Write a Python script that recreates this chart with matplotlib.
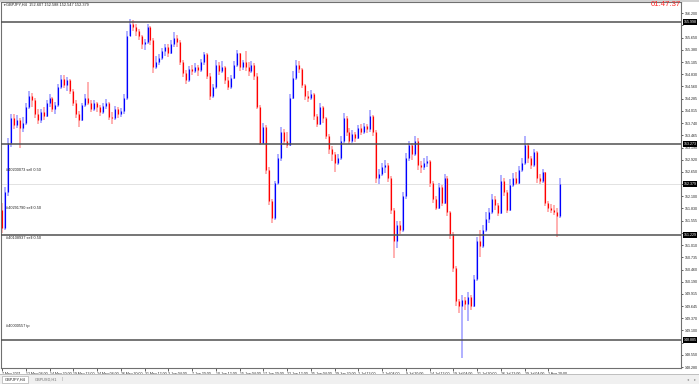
import matplotlib
matplotlib.use('Agg')
import matplotlib.pyplot as plt
import matplotlib.transforms as mtransforms
from matplotlib.patches import Rectangle

plt.rcParams['font.family'] = ['Liberation Sans', 'DejaVu Sans']

# ==========================================
# GBPJPY H4 (every candle here covers two H4 bars)
# ==========================================
first_open = 151.80
closes = [
    151.40, 152.20, 153.30, 153.85, 153.70, 153.80, 153.62, 153.75, 154.10, 154.35,
    154.25, 153.95, 153.82, 153.98, 153.90, 154.18, 154.30, 154.05, 154.15, 154.55,
    154.72, 154.60, 154.70, 154.45, 154.20, 153.95, 153.80, 154.15, 154.30, 154.20,
    154.05, 154.18, 154.10, 153.98, 154.12, 154.20, 153.88, 153.85, 154.05, 153.95,
    154.00, 154.30, 155.70, 155.95, 155.88, 155.80, 155.70, 155.50, 155.55, 155.90,
    155.60, 155.00, 155.10, 155.20, 155.35, 155.45, 155.30, 155.50, 155.65, 155.55,
    155.10, 154.85, 154.70, 154.95, 154.90, 155.00, 154.92, 155.10, 155.28, 154.80,
    154.35, 154.55, 155.05, 154.90, 155.00, 154.70, 154.55, 154.75, 155.05, 155.30,
    155.00, 155.10, 155.00, 154.90, 155.05, 154.80, 154.10, 153.30, 153.65, 152.70,
    152.00, 151.62, 152.40, 152.95, 153.55, 153.35, 153.25, 154.30, 154.75, 155.05,
    154.95, 154.60, 154.35, 154.30, 154.40, 153.90, 153.72, 154.10, 153.85, 153.45,
    153.15, 153.05, 152.85, 152.95, 153.35, 153.85, 153.55, 153.35, 153.50, 153.40,
    153.62, 153.55, 153.68, 153.60, 153.90, 153.55, 152.50, 152.60, 152.75, 152.80,
    152.50, 151.80, 151.10, 151.45, 151.35, 152.10, 152.95, 153.25, 153.05, 153.35,
    152.80, 152.75, 152.85, 152.90, 152.40, 152.05, 151.85, 152.30, 151.95, 152.52,
    151.75, 151.25, 150.50, 149.75, 149.65, 149.78, 149.70, 149.85, 149.65, 150.25,
    151.10, 151.00, 151.35, 151.60, 151.75, 152.05, 151.90, 151.72, 152.45, 152.20,
    151.80, 152.35, 152.50, 152.40, 152.70, 152.85, 153.25, 152.95, 152.80, 153.10,
    152.50, 152.45, 152.65, 151.95, 151.85, 151.80, 151.75, 151.65, 152.38,
]
highs = [
    151.95, 152.30, 153.40, 153.95, 153.95, 153.92, 153.85, 153.88, 154.20, 154.45,
    154.42, 154.30, 154.05, 154.05, 154.10, 154.25, 154.38, 154.32, 154.22, 154.62,
    154.82, 154.82, 154.78, 154.72, 154.50, 154.25, 154.00, 154.20, 154.40, 154.66,
    154.25, 154.25, 154.22, 154.15, 154.20, 154.28, 154.22, 153.98, 154.12, 154.10,
    154.08, 154.40, 155.80, 156.06, 156.05, 155.95, 155.85, 155.72, 155.62, 155.96,
    155.92, 155.65, 155.25, 155.28, 155.42, 155.52, 155.50, 155.60, 155.78, 155.72,
    155.60, 155.15, 154.92, 155.02, 155.05, 155.08, 155.05, 155.18, 155.32, 155.30,
    154.85, 154.62, 155.15, 155.10, 155.12, 155.02, 154.78, 154.82, 155.12, 155.38,
    155.30, 155.15, 155.35, 155.10, 155.12, 155.08, 154.85, 154.15, 153.75, 153.70,
    152.75, 152.05, 152.45, 153.05, 153.65, 153.60, 153.55, 154.40, 154.90, 155.15,
    155.12, 154.98, 154.62, 154.45, 154.48, 154.42, 153.95, 154.18, 154.12, 153.88,
    153.50, 153.22, 153.10, 153.05, 153.45, 153.96, 153.90, 153.62, 153.58, 153.55,
    153.70, 153.72, 153.75, 153.72, 154.03, 153.92, 153.58, 152.72, 152.85, 152.92,
    152.85, 152.55, 151.85, 151.55, 151.55, 152.20, 153.08, 153.35, 153.30, 153.45,
    153.40, 152.90, 152.95, 153.00, 152.92, 152.45, 152.10, 152.40, 152.35, 152.60,
    152.55, 151.78, 151.30, 150.55, 149.80, 149.90, 149.85, 149.95, 149.90, 150.35,
    151.20, 151.35, 151.45, 151.75, 151.85, 152.15, 152.10, 151.95, 152.58, 152.50,
    152.25, 152.48, 152.62, 152.65, 152.78, 152.95, 153.45, 153.30, 153.00, 153.15,
    153.12, 152.60, 152.72, 152.65, 152.00, 151.92, 151.90, 151.85, 152.52,
]
lows = [
    151.28, 151.35, 152.10, 153.20, 153.60, 153.62, 153.18, 153.55, 153.70, 154.05,
    154.10, 153.85, 153.72, 153.75, 153.80, 153.88, 154.10, 153.98, 153.95, 154.10,
    154.50, 154.52, 154.45, 154.38, 154.12, 153.85, 153.66, 153.78, 154.10, 154.15,
    153.98, 154.00, 153.98, 153.90, 153.95, 154.05, 153.80, 153.72, 153.80, 153.85,
    153.88, 153.95, 154.25, 155.70, 155.80, 155.70, 155.60, 155.40, 155.38, 155.50,
    155.48, 154.86, 154.95, 155.05, 155.15, 155.25, 155.22, 155.28, 155.45, 155.45,
    155.05, 154.78, 154.62, 154.65, 154.82, 154.85, 154.80, 154.88, 155.05, 154.72,
    154.26, 154.30, 154.50, 154.82, 154.85, 154.62, 154.48, 154.50, 154.72, 155.00,
    154.90, 154.92, 154.90, 154.80, 154.85, 154.70, 154.05, 153.25, 153.28, 152.60,
    151.90, 151.50, 151.58, 152.35, 152.90, 153.25, 153.18, 153.22, 154.28, 154.70,
    154.85, 154.52, 154.26, 154.22, 154.25, 153.82, 153.65, 153.70, 153.75, 153.38,
    153.05, 152.90, 152.65, 152.80, 152.92, 153.30, 153.45, 153.28, 153.30, 153.32,
    153.38, 153.48, 153.50, 153.52, 153.55, 153.45, 152.40, 152.38, 152.55, 152.62,
    152.42, 151.70, 150.72, 150.95, 151.25, 151.30, 152.05, 152.90, 152.92, 153.00,
    152.70, 152.62, 152.68, 152.75, 152.30, 151.95, 151.80, 151.82, 151.88, 151.92,
    151.65, 151.15, 150.40, 149.65, 149.50, 148.48, 149.55, 149.30, 149.55, 149.62,
    150.20, 150.75, 150.95, 151.30, 151.50, 151.70, 151.80, 151.65, 151.70, 152.10,
    151.72, 151.78, 152.30, 152.35, 152.38, 152.65, 152.80, 152.85, 152.72, 152.75,
    152.40, 152.38, 152.40, 151.88, 151.75, 151.72, 151.68, 151.20, 151.62,
]
opens = [first_open] + closes[:-1]

date_labels = ['7 May 2021', '12 May 04:00', '14 May 20:00', '19 May 12:00', '24 May 04:00',
               '26 May 20:00', '31 May 12:00', '3 Jun 04:00', '7 Jun 20:00', '10 Jun 12:00',
               '15 Jun 04:00', '17 Jun 20:00', '22 Jun 12:00', '25 Jun 04:00', '29 Jun 20:00',
               '2 Jul 12:00', '7 Jul 04:00', '9 Jul 20:00', '14 Jul 12:00', '19 Jul 04:00',
               '21 Jul 20:00', '26 Jul 12:00', '29 Jul 04:00', '2 Aug 20:00']
candles_per_label = 8

price_ticks = [156.200, 155.925, 155.650, 155.380, 155.105, 154.830, 154.560, 154.285,
               154.015, 153.740, 153.465, 153.190, 152.920, 152.650, 152.375, 152.100,
               151.830, 151.555, 151.285, 151.010, 150.735, 150.460, 150.190, 149.915,
               149.645, 149.370, 149.100, 148.825, 148.550, 148.280]

level_lines = [155.998, 153.273, 151.229, 148.885]
bid = 152.379

order_labels = ['#40200073 sell 0.50', '#40291790 sell 0.50', '#40108937 sell 0.50', '#40000557 tp']
order_prices = [152.69, 151.84, 151.16, 149.20]

title_text = 'GBPJPY,H4  152.607 152.588 152.547 152.379'
timer_text = '01:47:37'

# ==========================================
# FIGURE
# ==========================================
W, H = 699, 384
fig = plt.figure(figsize=(W / 100, H / 100), dpi=100)
fig.patch.set_facecolor('white')
ax = fig.add_axes([1 / W, 1 - 367.7 / H, 680.5 / W, 365.7 / H])
ax.set_facecolor('white')

up_col, dn_col = '#0000ff', '#ff0000'
up_wick, dn_wick = '#b0b0ff', '#ffb0b0'

x = list(range(len(closes)))
up = [c >= o for o, c in zip(opens, closes)]

def pick(vals, flag):
    return [v for v, u in zip(vals, up) if u == flag]

# wicks (light halo) then bodies
for flag, wc, bc in [(True, up_wick, up_col), (False, dn_wick, dn_col)]:
    ax.vlines(pick(x, flag), pick(lows, flag), pick(highs, flag), color=wc, lw=1.4, zorder=2)
    ax.vlines(pick(x, flag), pick(opens, flag), pick(closes, flag), color=bc, lw=0.85, zorder=3)

# horizontal levels and bid line
for lv in level_lines:
    ax.axhline(lv, color='#505050', lw=1.1, zorder=4)
ax.axhline(bid, color='#e2e2e2', lw=0.7, zorder=1)

# order labels
for txt, p in zip(order_labels, order_prices):
    ax.text(1.2, p, txt, fontsize=2.8, color='#202020', ha='left', va='center', zorder=5)

ax.set_xlim(-0.34, 228.8)
ax.set_ylim(148.265, 156.45)

# x axis: date labels left aligned from the tick
ax.set_xticks([k * candles_per_label for k in range(len(date_labels))])
ax.set_xticklabels(date_labels, fontsize=2.5)
shift = mtransforms.ScaledTranslation(1.0 / 100, 0, fig.dpi_scale_trans)
for lbl in ax.get_xticklabels():
    lbl.set_ha('left')
    lbl.set_transform(lbl.get_transform() + shift)
ax.tick_params(axis='x', length=2.2, width=0.5, pad=0.8, colors='#202020')

# y axis on the right; labels hidden under the highlighted boxes are left blank
ax.yaxis.tick_right()
ax.set_yticks(price_ticks)
hidden = {155.925, 152.375, 151.285, 148.825}
ax.set_yticklabels(['' if v in hidden else f'{v:.3f}' for v in price_ticks], fontsize=2.6)
ax.tick_params(axis='y', length=1.5, width=0.5, pad=0.8, colors='#202020')

for s in ax.spines.values():
    s.set_color('#707070')
    s.set_linewidth(0.8)

# highlighted price boxes on the scale
trans = mtransforms.blended_transform_factory(ax.transAxes, ax.transData)
for lv in level_lines + [bid]:
    ax.text(1.003, lv, f'{lv:.3f}', transform=trans, fontsize=2.6, color='white',
            ha='left', va='center', clip_on=False, zorder=6,
            bbox=dict(boxstyle='square,pad=0.25', fc='black', ec='none'))

# header text
fig.text(2 / W, 1 - 5 / H, '▼', fontsize=2.5, color='#404040', va='center')
fig.text(6 / W, 1 - 5 / H, title_text, fontsize=2.8, color='#202020', va='center')
fig.text(681 / W, 1 - 5 / H, timer_text, fontsize=5.6, color='#ff2a2a', ha='right', va='center')

# top strip
fig.add_artist(Rectangle((0, 1 - 1.5 / H), 1, 1.5 / H, transform=fig.transFigure,
                         fc='#d0d0d0', ec='none'))

# bottom tab strip
fig.add_artist(Rectangle((0, 0), 1, 9 / H, transform=fig.transFigure,
                         fc='#f0f0f0', ec='none'))
fig.add_artist(Rectangle((0, 9 / H), 1, 0.6 / H, transform=fig.transFigure,
                         fc='#c0c0c0', ec='none'))
fig.add_artist(Rectangle((2 / W, 0.8 / H), 26 / W, 7.6 / H, transform=fig.transFigure,
                         fc='white', ec='#a0a0a0', lw=0.4))
fig.text(15 / W, 4.6 / H, 'GBPJPY,H4', fontsize=2.8, color='#202020', ha='center', va='center')
fig.text(46 / W, 4.6 / H, 'GBPUSD,H1', fontsize=2.8, color='#707070', ha='center', va='center')
fig.text(62 / W, 4.6 / H, '|', fontsize=3, color='#909090', ha='center', va='center')
fig.text(688 / W, 4.6 / H, '◂', fontsize=3, color='#909090', ha='center', va='center')
fig.text(695 / W, 4.6 / H, '▸', fontsize=3, color='#909090', ha='center', va='center')

fig.savefig('out.png', dpi=100)
